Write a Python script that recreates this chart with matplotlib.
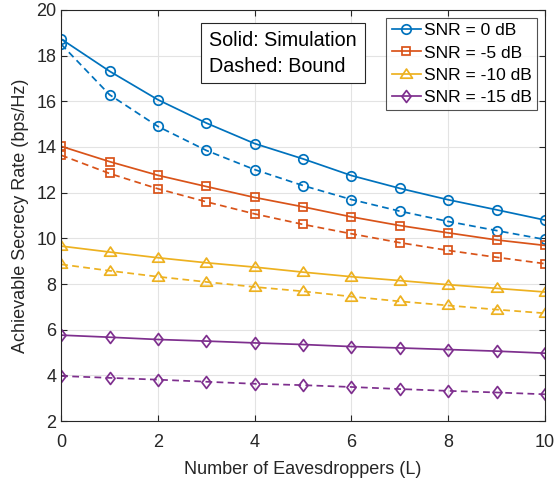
import matplotlib
matplotlib.use("Agg")
import matplotlib.pyplot as plt
from matplotlib.path import Path

plt.rcParams['font.family'] = ['Liberation Sans', 'DejaVu Sans']

L = list(range(11))
labels = ['SNR = 0 dB', 'SNR = -5 dB', 'SNR = -10 dB', 'SNR = -15 dB']
sim_0 = [18.73, 17.32, 16.07, 15.05, 14.15, 13.48, 12.75, 12.19, 11.69, 11.25, 10.80]
bnd_0 = [18.50, 16.29, 14.90, 13.85, 13.01, 12.31, 11.70, 11.19, 10.74, 10.34, 9.95]
sim_5 = [14.03, 13.36, 12.76, 12.27, 11.79, 11.38, 10.94, 10.56, 10.24, 9.93, 9.69]
bnd_5 = [13.64, 12.84, 12.17, 11.60, 11.07, 10.61, 10.20, 9.81, 9.47, 9.17, 8.89]
sim_10 = [9.66, 9.40, 9.15, 8.93, 8.74, 8.52, 8.32, 8.15, 7.97, 7.81, 7.65]
bnd_10 = [8.86, 8.58, 8.32, 8.09, 7.87, 7.68, 7.45, 7.24, 7.06, 6.88, 6.72]
sim_15 = [5.76, 5.67, 5.57, 5.50, 5.42, 5.35, 5.26, 5.20, 5.13, 5.06, 4.97]
bnd_15 = [3.97, 3.89, 3.81, 3.72, 3.63, 3.57, 3.49, 3.40, 3.32, 3.25, 3.17]

tri = Path([(-1, -0.62), (1, -0.62), (0, 0.92), (-1, -0.62)],
           [Path.MOVETO, Path.LINETO, Path.LINETO, Path.CLOSEPOLY])
dia = Path([(0, 1), (0.76, 0), (0, -1), (-0.76, 0), (0, 1)],
           [Path.MOVETO, Path.LINETO, Path.LINETO, Path.LINETO, Path.CLOSEPOLY])

colors = ['#0072BD', '#D95319', '#EDB120', '#7E2F8E']
markers = ['o', 's', tri, dia]
msizes = [6.8, 5.2, 8.6, 8.6]
sims = [sim_0, sim_5, sim_10, sim_15]
bnds = [bnd_0, bnd_5, bnd_10, bnd_15]

fig = plt.figure(figsize=(5.56, 4.87), dpi=100)
ax = fig.add_axes([0.110, 0.1355, 0.870, 0.844])

handles = []
for s, b, c, m, ms, lab in zip(sims, bnds, colors, markers, msizes, labels):
    h, = ax.plot(L, s, color=c, marker=m, markersize=ms, markerfacecolor='none',
                 markeredgewidth=1.25, linewidth=1.25, label=lab)
    ax.plot(L, b, color=c, marker=m, markersize=ms, markerfacecolor='none',
            markeredgewidth=1.25, linewidth=1.25, linestyle=(0, (3.9, 2.5)))
    handles.append(h)

ax.set_xlim(0, 10)
ax.set_ylim(2, 20)
ax.set_xticks([0, 2, 4, 6, 8, 10])
ax.set_yticks(range(2, 21, 2))
ax.grid(True, color='#e3e3e3', linewidth=0.8)
ax.set_axisbelow(True)
ax.tick_params(direction='in', top=True, right=True, labelsize=13, colors='#262626',
               length=4, width=0.8)
ax.tick_params(axis='x', pad=9)
for sp in ax.spines.values():
    sp.set_color('#262626')
    sp.set_linewidth(0.8)
ax.set_xlabel('Number of Eavesdroppers (L)', fontsize=13, color='#262626', labelpad=7.5)
ax.set_ylabel('Achievable Secrecy Rate (bps/Hz)', fontsize=13, color='#262626', labelpad=5)

leg = ax.legend(handles=handles, loc='upper right', fontsize=12.6, frameon=True,
                fancybox=False, edgecolor='#262626', handlelength=1.7,
                handletextpad=0.15, borderpad=0.3, labelspacing=0.4,
                borderaxespad=0.45)
leg.get_frame().set_linewidth(0.8)

ax.text(0.306, 0.895, 'Solid: Simulation\nDashed: Bound', transform=ax.transAxes,
        fontsize=14.2, va='center', ha='left', linespacing=1.45,
        bbox=dict(boxstyle='square,pad=0.4', facecolor='white', edgecolor='#262626', linewidth=0.8))

fig.savefig('out.png', dpi=100)
